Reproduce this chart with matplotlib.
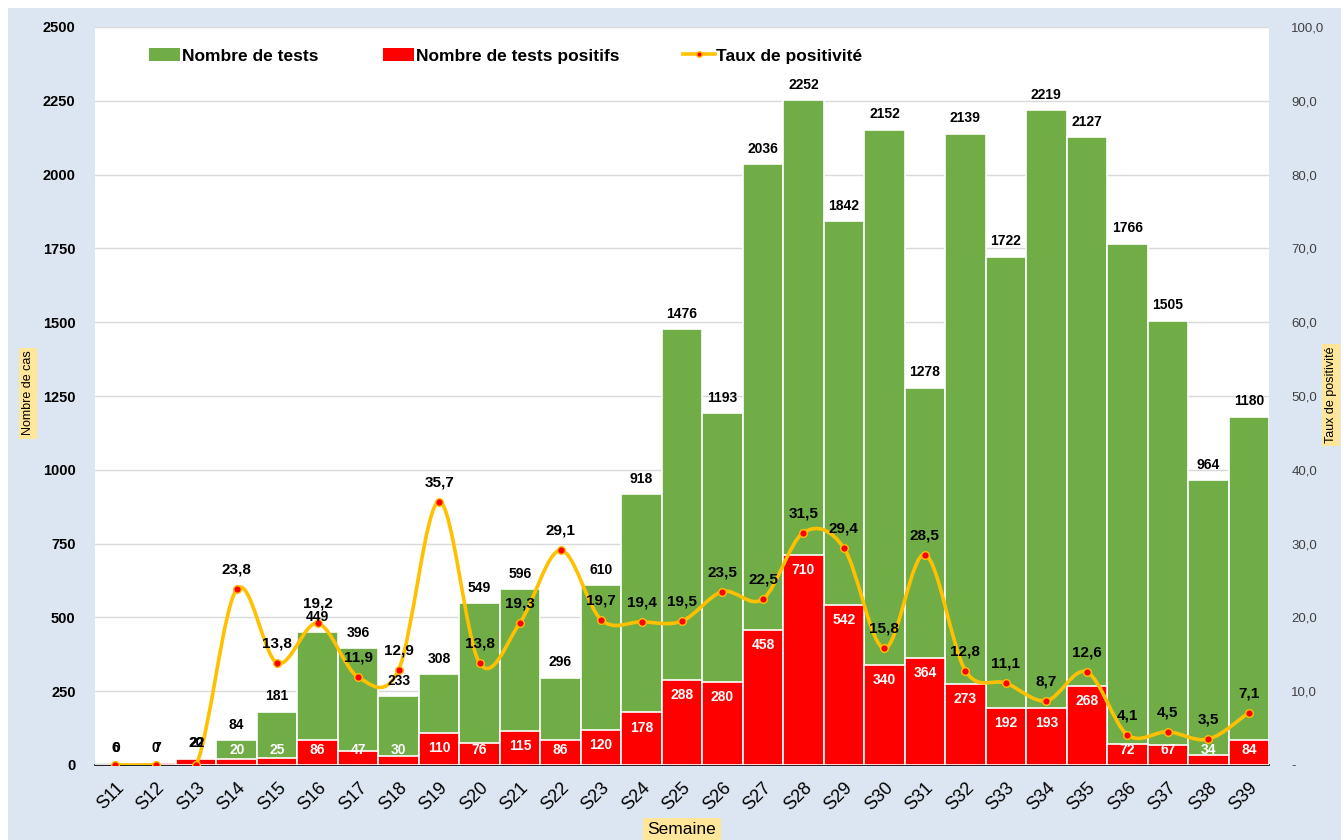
import numpy as np
import matplotlib
matplotlib.use("Agg")
import matplotlib.pyplot as plt
from matplotlib.path import Path
from matplotlib.patches import PathPatch, Patch, Rectangle
from matplotlib.lines import Line2D
from matplotlib.ticker import FuncFormatter, MultipleLocator

plt.rcParams['font.family'] = ['Liberation Sans', 'DejaVu Sans']

# data
semaines = [f"S{i}" for i in range(11, 40)]
tests = [6, 0, 20, 84, 181, 449, 396, 233, 308, 549, 596, 296, 610, 918, 1476,
         1193, 2036, 2252, 1842, 2152, 1278, 2139, 1722, 2219, 2127, 1766, 1505, 964, 1180]
positifs = [0, 7, 22, 20, 25, 86, 47, 30, 110, 76, 115, 86, 120, 178, 288,
            280, 458, 710, 542, 340, 364, 273, 192, 193, 268, 72, 67, 34, 84]
taux = [0.0, 0.0, 0.0, 23.8, 13.8, 19.2, 11.9, 12.9, 35.7, 13.8, 19.3, 29.1, 19.7, 19.4, 19.5,
        23.5, 22.5, 31.5, 29.4, 15.8, 28.5, 12.8, 11.1, 8.7, 12.6, 4.1, 4.5, 3.5, 7.1]

GREEN = '#70ad47'
RED = '#ff0000'
ORANGE = '#ffc000'
BG = '#dce6f2'
W, H = 1341, 840

fig = plt.figure(figsize=(W / 100, H / 100), dpi=100, facecolor='white')
fig.patches.append(Rectangle((8 / W, 0), 1, 1 - 8 / H, transform=fig.transFigure,
                             facecolor=BG, edgecolor='none', zorder=-10))

ax = fig.add_axes([95 / W, 1 - 765 / H, (1269 - 95) / W, (765 - 27) / H])
ax2 = ax.twinx()

x = np.arange(len(semaines))
ax.bar(x, tests, width=1.0, color=GREEN, edgecolor='white', linewidth=1.2, zorder=2)
ax.bar(x, positifs, width=1.0, color=RED, edgecolor='white', linewidth=1.2, zorder=3)

ax.set_xlim(-0.5, len(x) - 0.5)
ax.set_ylim(0, 2500)
ax.yaxis.set_major_locator(MultipleLocator(250))
ax.grid(axis='y', color='#d9d9d9', linewidth=1, zorder=0)
ax.set_axisbelow(True)
for s in ['top', 'right', 'left']:
    ax.spines[s].set_visible(False)
ax.spines['bottom'].set_color('black')
ax.spines['bottom'].set_linewidth(1.2)
ax.set_xticks(x)
ax.set_xticklabels(semaines, rotation=45, ha='right', rotation_mode='anchor', fontsize=13)
ax.tick_params(axis='x', length=0, pad=10)
ax.tick_params(axis='y', length=0, pad=14, labelsize=10.5)
for lbl in ax.get_yticklabels():
    lbl.set_fontweight('bold')

# secondary axis: taux de positivité
ax2.set_ylim(0, 100)
ax2.yaxis.set_major_locator(MultipleLocator(10))
ax2.yaxis.set_major_formatter(FuncFormatter(
    lambda v, p: '-' if v == 0 else f"{v:.1f}".replace('.', ',')))
ax2.tick_params(axis='y', length=0, pad=16, labelsize=9.5, labelcolor='#404040')
for s in ax2.spines.values():
    s.set_visible(False)

# smoothed line (bezier through the points, like the spreadsheet smoothing)
n = len(taux)
verts = [(x[0], taux[0])]
codes = [Path.MOVETO]
for i in range(n - 1):
    p0 = (x[i - 1], taux[i - 1]) if i > 0 else (x[i], taux[i])
    p3 = (x[i + 2], taux[i + 2]) if i + 2 < n else (x[i + 1], taux[i + 1])
    c1 = (x[i] + (x[i + 1] - p0[0]) / 6, taux[i] + (taux[i + 1] - p0[1]) / 6)
    c2 = (x[i + 1] - (p3[0] - x[i]) / 6, taux[i + 1] - (p3[1] - taux[i]) / 6)
    verts += [c1, c2, (x[i + 1], taux[i + 1])]
    codes += [Path.CURVE4] * 3
ax2.add_patch(PathPatch(Path(verts, codes), facecolor='none', edgecolor=ORANGE,
                        linewidth=2.6, zorder=4))
ax2.plot(x, taux, linestyle='none', marker='o', markersize=5.5, markerfacecolor=RED,
         markeredgecolor=ORANGE, markeredgewidth=1, zorder=5)

# data labels
for i in x:
    top = max(tests[i], positifs[i])
    ax2.annotate(str(tests[i]), (i, top), xycoords=ax.transData, xytext=(0, 11),
                 textcoords='offset points', ha='center', va='center',
                 fontsize=10, fontweight='bold', color='black', zorder=6)
    if i < 3:
        ax2.annotate(str(positifs[i]), (i, top), xycoords=ax.transData, xytext=(1, 11),
                     textcoords='offset points', ha='center', va='center',
                     fontsize=10, fontweight='bold', color='black', zorder=6)
    else:
        ax2.annotate(str(positifs[i]), (i, max(positifs[i] - 51, 51)), xycoords=ax.transData,
                     ha='center', va='center', fontsize=10, fontweight='bold',
                     color='white', zorder=6)
    if taux[i] > 0:
        ax2.annotate(f"{taux[i]:.1f}".replace('.', ','), (i, taux[i]), xytext=(0, 14),
                     textcoords='offset points', ha='center', va='center',
                     fontsize=11, fontweight='bold', color='black', zorder=6)

# legend
handles = [Patch(facecolor=GREEN, edgecolor='none'),
           Patch(facecolor=RED, edgecolor='none'),
           Line2D([], [], color=ORANGE, linewidth=2.6, marker='o', markersize=4,
                  markerfacecolor=RED, markeredgecolor=ORANGE)]
fig.legend(handles, ['Nombre de tests', 'Nombre de tests positifs', 'Taux de positivité'],
           loc='center left', bbox_to_anchor=(149 / W, 1 - 56 / H), ncol=3, frameon=False,
           borderpad=0, borderaxespad=0, handlelength=1.8, handleheight=0.8,
           handletextpad=0.1, columnspacing=3.7,
           prop={'weight': 'bold', 'size': 12.5})

# axis titles
yellow = dict(boxstyle='square,pad=0.25', facecolor='#ffe699', edgecolor='none')
fig.text(28 / W, 1 - 393 / H, 'Nombre de cas', rotation=90, ha='center', va='center',
         fontsize=9, bbox=yellow)
fig.text(1331 / W, 1 - 395 / H, 'Taux de positivité', rotation=90, ha='center', va='center',
         fontsize=9, bbox=yellow)
fig.text(682 / W, 1 - 830 / H, 'Semaine', ha='center', va='center', fontsize=12.5, bbox=yellow)

fig.savefig('out.png', dpi=100, facecolor=fig.get_facecolor())
